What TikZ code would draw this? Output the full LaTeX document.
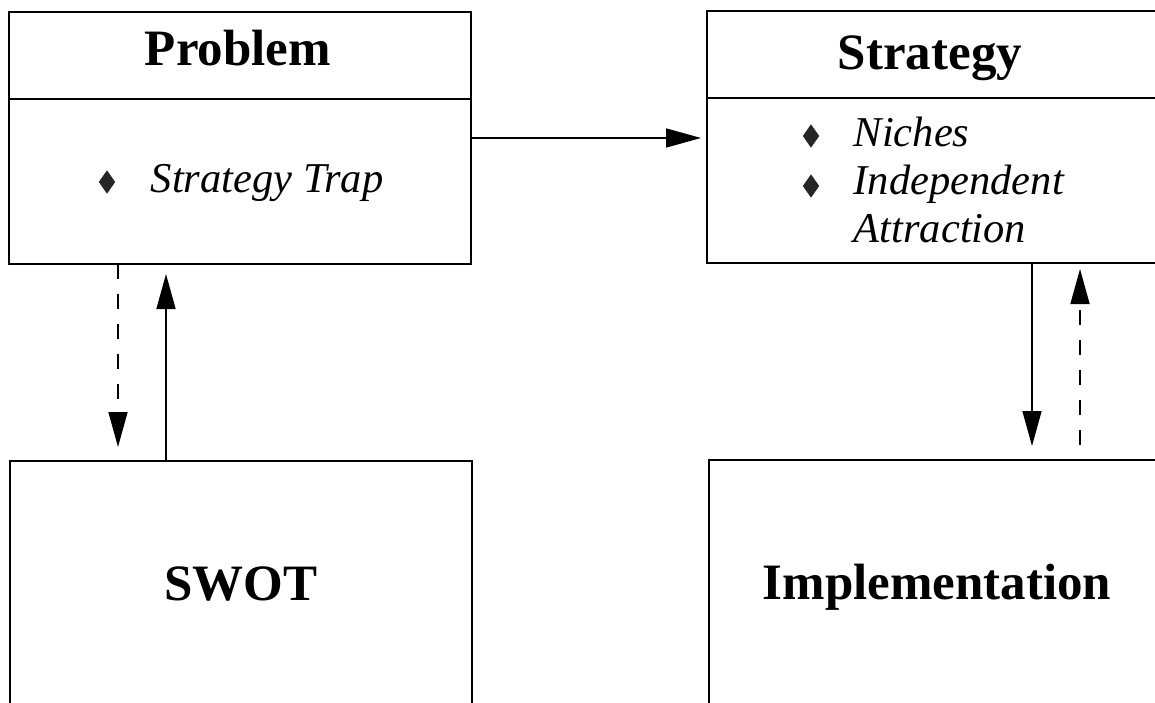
\documentclass[tikz,border=0pt]{standalone}
\usepackage{fontspec}
\setmainfont{Liberation Serif}
\usetikzlibrary{arrows.meta,shapes.geometric}
\begin{document}
\begin{tikzpicture}[x=1pt,y=-1pt,line width=1.5pt,
  box/.style={draw,rectangle,minimum width=462pt,anchor=north west,inner sep=0pt,outer sep=0pt},
  title/.style={anchor=base,font=\fontsize{51}{60}\selectfont\bfseries,inner sep=0pt},
  item/.style={anchor=base west,font=\fontsize{42.5}{50}\selectfont\itshape,inner sep=0pt},
  bullet/.style={diamond,fill=black!85,draw=none,inner sep=0pt,shape aspect=0.7,minimum width=17pt,minimum height=24pt},
  arr/.style={-{Triangle[length=35pt,width=19pt]},line width=1.6pt},
  dasharr/.style={arr,dash pattern=on 15pt off 15pt}]
\useasboundingbox (0,0) rectangle (1155,703);
\clip (0,0) rectangle (1155,703);

% Problem box
\node[box,minimum height=87pt] (probhead) at (9,12) {};
\node[box,minimum height=165pt] (probbody) at (9,99) {};
\node[title] (probtitle) at (238,66) {Problem};
\node[bullet] (probb1) at (107,182) {};
\node[item] (probi1) at (150,193) {Strategy Trap};

% Strategy box
\node[box,minimum height=87pt] (strhead) at (707,11) {};
\node[box,minimum height=165pt] (strbody) at (707,98) {};
\node[title] (strtitle) at (930,70) {Strategy};
\node[bullet] (strb1) at (811,136) {};
\node[item] (stri1) at (853,147) {Niches};
\node[bullet] (strb2) at (811,186) {};
\node[item] (stri2) at (853,195) {Independent};
\node[item] (stri3) at (853,243) {Attraction};

% Lower boxes
\node[box,minimum height=300pt] (swot) at (10,461) {};
\node[title] (swottitle) at (241,600) {SWOT};
\node[box,minimum height=300pt] (impl) at (709,460) {};
\node[title] (impltitle) at (937,599) {Implementation};

% Connectors
\draw[arr,shorten >=6pt] ([yshift=-39pt]probbody.north east) -- ([yshift=-40pt]strbody.north west);
\draw[dasharr,shorten >=14pt] ([xshift=109pt]probbody.south west) -- ([xshift=108pt]swot.north west);
\draw[arr,shorten >=10pt] ([xshift=156pt]swot.north west) -- ([xshift=157pt]probbody.south west);
\draw[arr,shorten >=14pt] ([xshift=325pt]strbody.south west) -- ([xshift=323pt]impl.north west);
\draw[dasharr,shorten <=15pt,shorten >=6pt] ([xshift=371pt]impl.north west) -- ([xshift=373pt]strbody.south west);
\end{tikzpicture}
\end{document}
